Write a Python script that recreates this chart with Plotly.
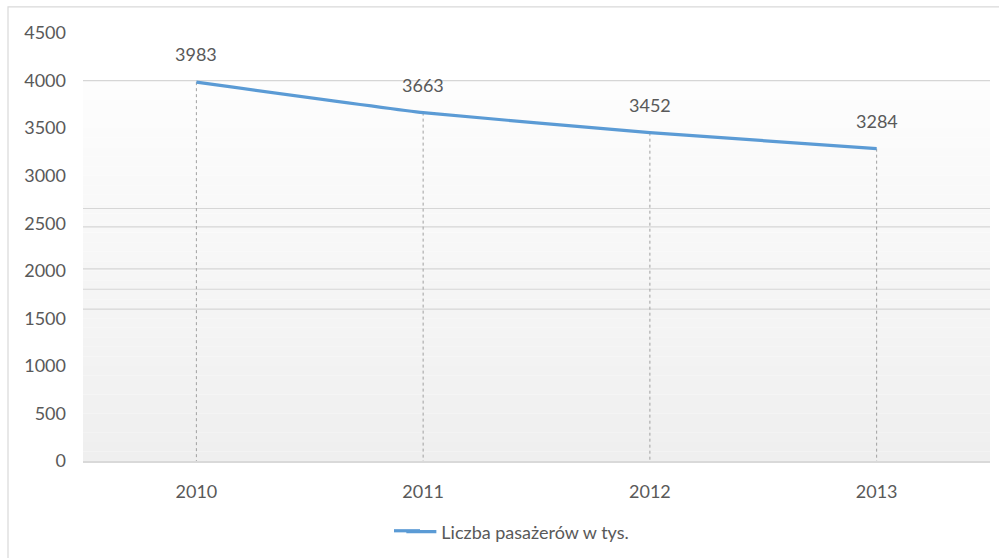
import plotly.graph_objects as go

YEARS = ["2010", "2011", "2012", "2013"]
PASSENGERS = [3983, 3663, 3452, 3284]
SERIES_NAME = "Liczba pasażerów w tys."
Y_TICKS = [0, 500, 1000, 1500, 2000, 2500, 3000, 3500, 4000, 4500]
# odd horizontal rules visible in the source image
EXTRA_LINES = [4000, 2655, 2462, 2019, 1806, 1596]

FONT = "Lato, 'Open Sans', sans-serif"
TEXT = "#595959"
BLUE = "#5b9bd5"
FS = 18

fig = go.Figure()

# gradient plot background from 0 to 4000
steps = 40
top, bottom = (253, 253, 253), (239, 239, 239)
for i in range(steps):
    t = i / (steps - 1)
    c = tuple(round(bottom[k] + (top[k] - bottom[k]) * t) for k in range(3))
    fig.add_shape(
        type="rect", xref="paper", yref="y",
        x0=0, x1=1, y0=4000 * i / steps, y1=4000 * (i + 1) / steps,
        fillcolor=f"rgb{c}", line_width=0, layer="below",
    )

for yv in EXTRA_LINES:
    fig.add_shape(
        type="line", xref="paper", yref="y", x0=0, x1=1, y0=yv, y1=yv,
        line={"color": "#d6d6d6", "width": 1.2}, layer="below",
    )

# drop lines
drop_x, drop_y = [], []
for x, v in zip(YEARS, PASSENGERS):
    drop_x += [x, x, None]
    drop_y += [v, 0, None]
fig.add_scatter(
    x=drop_x, y=drop_y, mode="lines", showlegend=False, hoverinfo="skip",
    line={"color": "#a0a0a0", "width": 1, "dash": "dot"},
)

fig.add_scatter(
    x=YEARS, y=PASSENGERS, mode="lines", name=SERIES_NAME,
    line={"color": BLUE, "width": 3.2, "shape": "spline", "smoothing": 0.3},
)

# data labels (category index positions)
for i, v in enumerate(PASSENGERS):
    fig.add_annotation(
        x=i, y=v, text=str(v), showarrow=False, yshift=28,
        font={"family": FONT, "size": FS, "color": TEXT},
    )

# outer chart border
fig.add_shape(
    type="rect", xref="paper", yref="paper",
    x0=-75 / 907, x1=1.02, y0=-1.3, y1=1.061,
    line={"color": "#d9d9d9", "width": 1.2}, fillcolor="rgba(0,0,0,0)",
)
# longer legend key, as in the original
fig.add_shape(
    type="line", xref="paper", yref="paper",
    x0=(394 - 83) / 907, x1=(420 - 83) / 907, y0=-0.163, y1=-0.163,
    line={"color": BLUE, "width": 3.2},
)

fig.update_layout(
    width=999, height=558,
    margin={"l": 83, "r": 9, "t": 33, "b": 96},
    paper_bgcolor="white", plot_bgcolor="white",
    font={"family": FONT, "size": FS, "color": TEXT},
    showlegend=True,
    legend={
        "orientation": "h", "x": 0.351, "xanchor": "left",
        "y": -0.163, "yanchor": "middle", "bgcolor": "rgba(0,0,0,0)",
        "font": {"family": FONT, "size": FS, "color": TEXT},
    },
    xaxis={
        "type": "category", "range": [-0.5, 3.5], "showgrid": False,
        "showline": True, "linecolor": "#d9d9d9", "linewidth": 2,
        "ticks": "", "ticklabelstandoff": 13, "zeroline": False,
    },
    yaxis={
        "range": [0, 4500], "tickvals": Y_TICKS, "showgrid": False,
        "zeroline": False, "ticks": "", "ticklabelstandoff": 16,
    },
)

fig.write_html(
    "out.html",
    config={"displayModeBar": False},
    post_script="document.body.style.margin='0';",
)
